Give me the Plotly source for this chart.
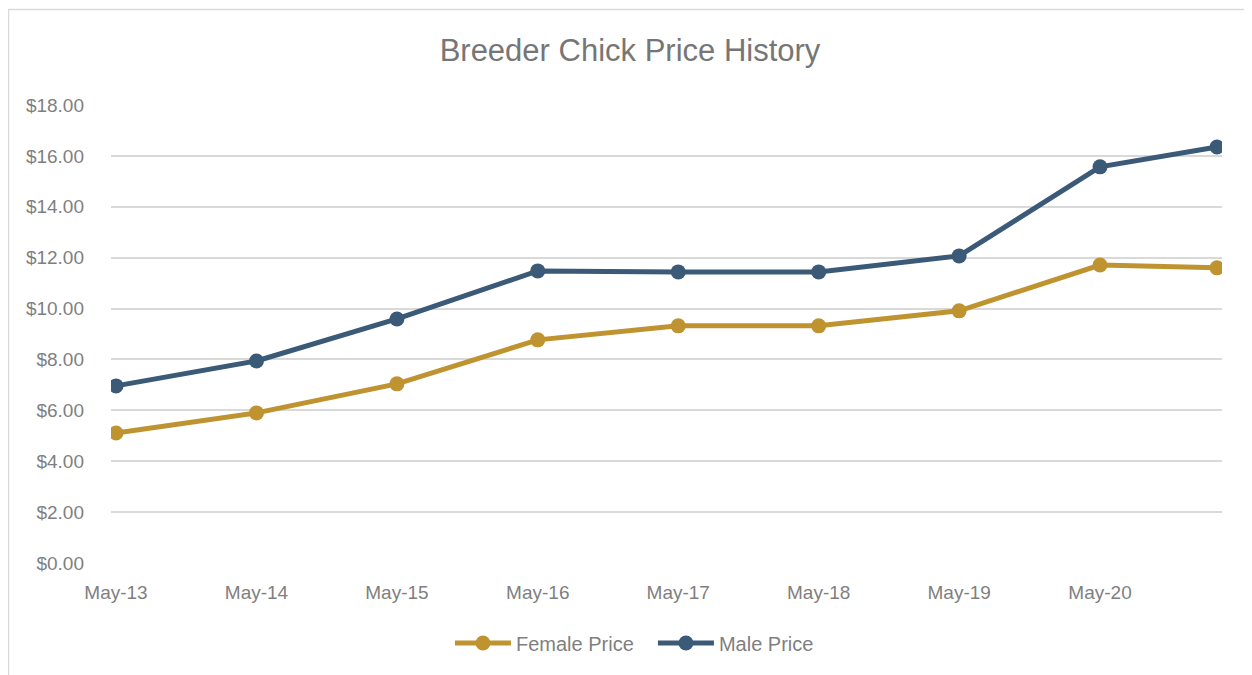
import plotly.graph_objects as go

dates = ['2013-05-01', '2014-05-01', '2015-05-01', '2016-05-01', '2017-05-01',
         '2018-05-01', '2019-05-01', '2020-05-01', '2021-03-01']
female_price = [5.11, 5.90, 7.04, 8.77, 9.32, 9.32, 9.91, 11.71, 11.60]
male_price = [6.96, 7.94, 9.59, 11.48, 11.44, 11.44, 12.07, 15.57, 16.35]
tick_dates = ['2013-05-01', '2014-05-01', '2015-05-01', '2016-05-01',
              '2017-05-01', '2018-05-01', '2019-05-01', '2020-05-01']
tick_labels = ['May-13', 'May-14', 'May-15', 'May-16', 'May-17', 'May-18', 'May-19', 'May-20']

FONT = 'Liberation Sans Narrow, Arial Narrow, Liberation Sans, Arial, sans-serif'
GRAY = '#7f7f7f'

fig = go.Figure()
fig.add_trace(go.Scatter(x=dates, y=female_price, name='Female Price', mode='lines+markers',
                         line={'color': '#bf9430', 'width': 5},
                         marker={'size': 15, 'color': '#bf9430'}))
fig.add_trace(go.Scatter(x=dates, y=male_price, name='Male Price', mode='lines+markers',
                         line={'color': '#3a5a78', 'width': 5},
                         marker={'size': 15, 'color': '#3a5a78'}))

# page body has an 8px margin, so the figure sits 8px right/down
fig.update_layout(
    width=1252, height=675,
    margin=dict(l=103, r=38, t=97, b=120),
    paper_bgcolor='white', plot_bgcolor='white',
    font=dict(family=FONT, color=GRAY, size=19),
    title=dict(text='Breeder Chick Price History', x=0.4968, xanchor='center',
               y=0.9378, yanchor='middle', font=dict(size=31, color='#767676')),
    xaxis=dict(
        type='date',
        range=['2013-04-18', '2021-03-14'],
        tickvals=tick_dates, ticktext=tick_labels,
        showgrid=False, showline=False, zeroline=False,
        ticks='', ticklabelstandoff=16, tickfont=dict(size=19, color=GRAY),
    ),
    yaxis=dict(
        range=[0, 18], dtick=2, tickformat='$,.2f',
        showgrid=True, gridcolor='#d9d9d9', gridwidth=1.5,
        zeroline=False, showline=False, ticks='', ticklabelstandoff=26,
        tickfont=dict(size=19, color=GRAY),
    ),
    legend=dict(orientation='h', x=0.4878, xanchor='center', y=-0.1747, yanchor='middle',
                font=dict(size=20, color=GRAY), itemwidth=56,
                entrywidth=132, entrywidthmode='pixels'),
    showlegend=True,
    shapes=[dict(type='rect', xref='paper', yref='paper', x0=-0.0923, x1=1.1,
                 y0=-0.3, y1=1.2085, line=dict(color='#d9d9d9', width=1.5),
                 fillcolor='rgba(0,0,0,0)', layer='below')],
)

fig.write_html('out.html')
